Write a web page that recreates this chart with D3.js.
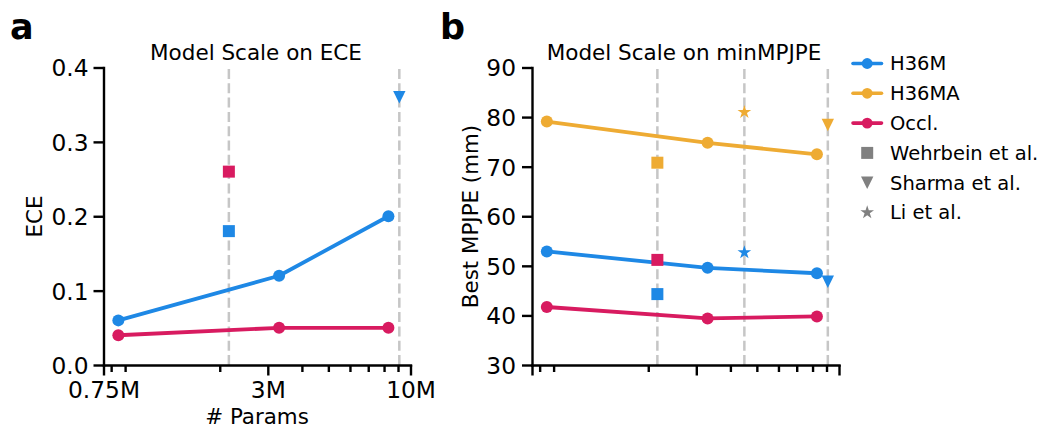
<!DOCTYPE html>
<html><head><meta charset="utf-8">
<script src="https://cdn.jsdelivr.net/npm/d3@7"></script>
<style>
body{margin:0;background:#fff;}
svg{display:block;font-family:"DejaVu Sans",sans-serif;}
</style></head><body>
<svg id="c" width="1044" height="430"></svg>
<script>
// ---------------- data ----------------
const seriesNames = ["H36M", "H36MA", "Occl."];
const paramsM = [0.85, 3.3, 8.3];               // model sizes (millions)
const eceH36M = [0.06, 0.12, 0.20];
const eceOccl = [0.04, 0.05, 0.05];
const mpjpeH36M = [52.9, 49.6, 48.5];
const mpjpeH36MA = [79.1, 74.8, 72.5];
const mpjpeOccl = [41.7, 39.4, 39.8];

const baselineNames = ["Wehrbein et al.", "Sharma et al.", "Li et al."];
const baselineParamsM = [2.16, 9.1, 4.5];
// values per series order [H36M, H36MA, Occl.]
const wehrbeinECE = [0.18, null, 0.26];
const sharmaECE = [0.36, null, null];
const liECE = [null, null, null];
const wehrbeinMPJPE = [44.3, 70.8, 51.2];
const sharmaMPJPE = [46.8, 78.4, null];
const liMPJPE = [52.7, 81.0, null];

const xMajorTicks = [0.75, 3, 10];
const xMajorLabels = ["0.75M", "3M", "10M"];
const xMinorTicks = [0.8, 0.9, 2, 4, 5, 6, 7, 8, 9];
const eceTicks = [0, 0.1, 0.2, 0.3, 0.4];
const mpjpeTicks = [30, 40, 50, 60, 70, 80, 90];

// ---------------- style ----------------
const colors = ["#1E88E5", "#EEAB33", "#D81B60"];
const shapes = ["square", "triDown", "star"];
const FONT = '"DejaVu Sans", sans-serif';
const svg = d3.select("#c");

function markerPath(shape) {
  if (shape === "square") return d3.symbol(d3.symbolSquare, 144)();
  if (shape === "star") return d3.symbol(d3.symbolStar, 58)();
  if (shape === "circle") return d3.symbol(d3.symbolCircle, Math.PI * 6 * 6)();
  const h = 6.2;
  const p = d3.path();
  p.moveTo(-h, -h); p.lineTo(h, -h); p.lineTo(0, h); p.closePath();
  return p.toString();
}

function panel(opts) {
  const x = d3.scaleLog().domain([0.75, 10]).range(opts.xr);
  const y = d3.scaleLinear().domain(opts.yd).range([365, 67.5]);
  const g = svg.append("g");

  // dashed reference lines
  opts.refs.forEach(r => {
    g.append("line")
      .attr("x1", x(r)).attr("x2", x(r))
      .attr("y1", y(opts.yd[0])).attr("y2", y(opts.yd[1]))
      .attr("stroke", "#c6c6c6").attr("stroke-width", 2.5)
      .attr("stroke-dasharray", "10,4.3");
  });

  // series lines + circles
  opts.series.forEach((s, i) => {
    if (!s) return;
    const pts = paramsM.map((p, k) => [x(p), y(s[k])]);
    g.append("path").attr("d", d3.line()(pts))
      .attr("fill", "none").attr("stroke", colors[i]).attr("stroke-width", 3.8)
      .attr("stroke-linejoin", "round");
    pts.forEach(pt => {
      g.append("path").attr("d", markerPath("circle"))
        .attr("transform", `translate(${pt[0]},${pt[1]})`).attr("fill", colors[i]);
    });
  });

  // baselines
  opts.baselines.forEach((vals, b) => {
    vals.forEach((v, i) => {
      if (v == null) return;
      g.append("path").attr("d", markerPath(shapes[b]))
        .attr("transform", `translate(${x(baselineParamsM[b])},${y(v)})`)
        .attr("fill", colors[i]);
    });
  });

  // axes
  const ax = g.append("g").attr("transform", "translate(0,365)")
    .call(d3.axisBottom(x).tickValues(xMajorTicks)
      .tickFormat((d, i) => opts.xLabels ? xMajorLabels[i] : "")
      .tickSize(10.5).tickSizeOuter(0).tickPadding(6));
  const axm = g.append("g").attr("transform", "translate(0,365)")
    .call(d3.axisBottom(x).tickValues(xMinorTicks).tickFormat("").tickSize(7).tickSizeOuter(0));
  axm.select(".domain").remove();
  const ay = g.append("g").attr("transform", `translate(${opts.xr[0]},0)`)
    .call(d3.axisLeft(y).tickValues(opts.yTicks).tickFormat(opts.yFmt)
      .tickSize(10).tickSizeOuter(0).tickPadding(opts.yPad));
  [ax, axm, ay].forEach(a => {
    a.selectAll("path,line").attr("stroke", "#000").attr("stroke-width", 2.4);
    a.selectAll(".domain").attr("stroke-linecap", "square");
    a.selectAll("text").attr("font-family", FONT).attr("font-size", 23.3).attr("fill", "#000");
  });
  ay.selectAll("text").attr("dy", "0.36em");

  // title
  g.append("text").attr("x", opts.titleX).attr("y", 60)
    .attr("text-anchor", "middle").attr("font-family", FONT).attr("font-size", 21.5)
    .text(opts.title);
  // y label
  g.append("text").attr("transform", `translate(${opts.yLabelX},216.5) rotate(-90)`)
    .attr("text-anchor", "middle").attr("font-family", FONT).attr("font-size", 21.4)
    .text(opts.yLabel);
  if (opts.xLabel) {
    g.append("text").attr("x", (opts.xr[0] + opts.xr[1]) / 2 + 0).attr("y", 424)
      .attr("text-anchor", "middle").attr("font-family", FONT).attr("font-size", 21.4)
      .text(opts.xLabel);
  }
  // panel letter
  svg.append("text").attr("x", opts.letterX).attr("y", 38.5)
    .attr("font-family", FONT).attr("font-weight", "bold").attr("font-size", 35)
    .text(opts.letter);
}

panel({
  xr: [103.5, 410.5], yd: [0, 0.4], yTicks: eceTicks, yFmt: d3.format(".1f"), yPad: 5,
  refs: [baselineParamsM[0], baselineParamsM[1]],
  series: [eceH36M, null, eceOccl],
  baselines: [
    [wehrbeinECE[0], null, wehrbeinECE[2]],
    [sharmaECE[0], null, null],
    liECE
  ],
  xLabels: true, xLabel: "# Params", title: "Model Scale on ECE", titleX: 256,
  yLabel: "ECE", yLabelX: 41.5, letter: "a", letterX: 10
});

panel({
  xr: [532, 839], yd: [30, 90], yTicks: mpjpeTicks, yFmt: d3.format("d"), yPad: 6,
  refs: baselineParamsM,
  series: [mpjpeH36M, mpjpeH36MA, mpjpeOccl],
  baselines: [wehrbeinMPJPE, sharmaMPJPE, liMPJPE],
  xLabels: false, xLabel: null, title: "Model Scale on minMPJPE", titleX: 684,
  yLabel: "Best MPJPE (mm)", yLabelX: 477.5, letter: "b", letterX: 440
});

// ---------------- legend ----------------
const lg = svg.append("g");
const legendY = d3.scaleLinear().domain([0, 1]).range([63.5, 93.3]);
seriesNames.forEach((n, i) => {
  const yy = legendY(i);
  lg.append("line").attr("x1", 853).attr("x2", 881.5).attr("y1", yy).attr("y2", yy)
    .attr("stroke", colors[i]).attr("stroke-width", 3.6).attr("stroke-linecap", "round");
  lg.append("circle").attr("cx", 867.2).attr("cy", yy).attr("r", 5.4).attr("fill", colors[i]);
  lg.append("text").attr("x", 890).attr("y", yy + 6.8).attr("font-family", FONT)
    .attr("font-size", 19.5).text(n);
});
baselineNames.forEach((n, b) => {
  const yy = legendY(3 + b);
  lg.append("path").attr("d", markerPath(shapes[b]))
    .attr("transform", `translate(867.2,${yy})`).attr("fill", "#808080");
  lg.append("text").attr("x", 890).attr("y", yy + 6.8).attr("font-family", FONT)
    .attr("font-size", 19.5).text(n);
});
</script>
</body></html>
